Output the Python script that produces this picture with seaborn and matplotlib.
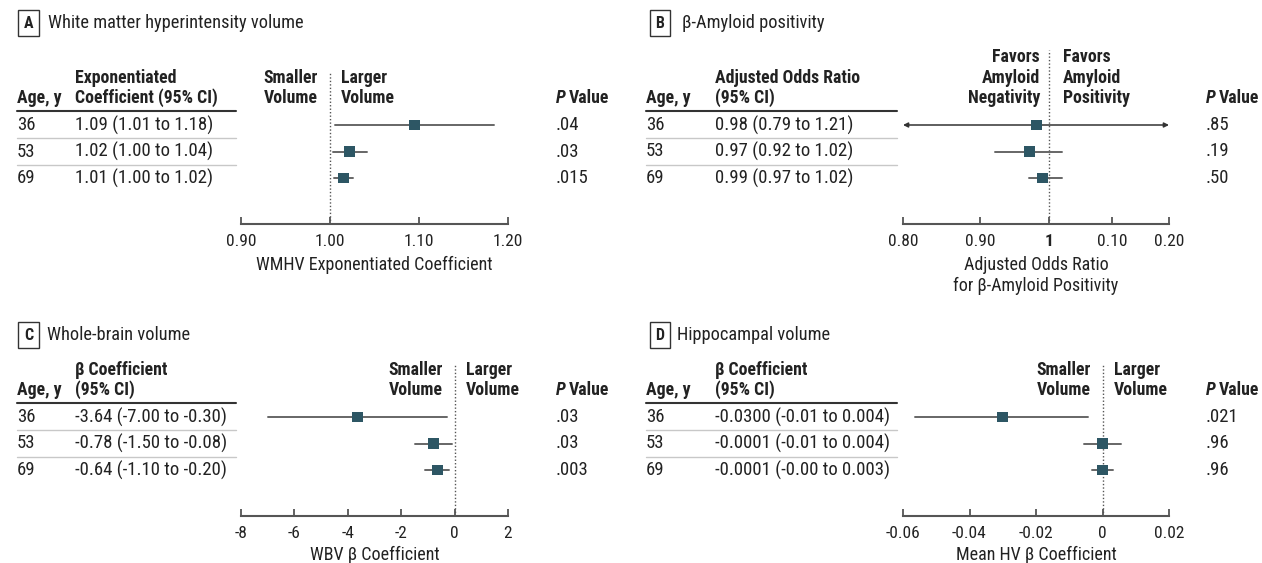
import matplotlib
matplotlib.use("Agg")
import matplotlib.pyplot as plt
import matplotlib.transforms as mtransforms
from matplotlib import font_manager
import numpy as np
import pandas as pd
import seaborn as sns

sns.set_theme(style="white")

# pick a condensed face if the machine has one
_faces = [(f.name, f.stretch) for f in font_manager.fontManager.ttflist]
_names = {n for n, _ in _faces}
CONDENSED = True
if "Liberation Sans Narrow" in _names:
    plt.rcParams["font.family"] = ["Liberation Sans Narrow", "DejaVu Sans"]
elif "Roboto Condensed" in _names:
    plt.rcParams["font.family"] = ["Roboto Condensed", "DejaVu Sans"]
elif any(n == "DejaVu Sans" and s in ("condensed", "semi-condensed") for n, s in _faces):
    plt.rcParams["font.family"] = ["DejaVu Sans"]
    plt.rcParams["font.stretch"] = "condensed"
else:
    plt.rcParams["font.family"] = ["Roboto", "DejaVu Sans"]
    CONDENSED = False

# ── data ───────────────────────────────────────────────────
ages = ["36", "53", "69"]

wmhv_est = [1.095, 1.022, 1.015]
wmhv_lo = [1.006, 1.003, 1.004]
wmhv_hi = [1.184, 1.042, 1.026]
wmhv_txt = ["1.09 (1.01 to 1.18)", "1.02 (1.00 to 1.04)", "1.01 (1.00 to 1.02)"]
wmhv_p = [".04", ".03", ".015"]

amy_est = [0.98, 0.97, 0.99]
amy_lo = [0.79, 0.92, 0.97]
amy_hi = [1.21, 1.02, 1.02]
amy_txt = ["0.98 (0.79 to 1.21)", "0.97 (0.92 to 1.02)", "0.99 (0.97 to 1.02)"]
amy_p = [".85", ".19", ".50"]

wbv_est = [-3.64, -0.78, -0.64]
wbv_lo = [-7.00, -1.50, -1.10]
wbv_hi = [-0.30, -0.08, -0.20]
wbv_txt = ["-3.64 (-7.00 to -0.30)", "-0.78 (-1.50 to -0.08)", "-0.64 (-1.10 to -0.20)"]
wbv_p = [".03", ".03", ".003"]

hv_est = [-0.0300, -0.0001, -0.0001]
hv_lo = [-0.0565, -0.0055, -0.0032]
hv_hi = [-0.0045, 0.0055, 0.0033]
hv_txt = ["-0.0300 (-0.01 to 0.004)", "-0.0001 (-0.01 to 0.004)", "-0.0001 (-0.00 to 0.003)"]
hv_p = [".021", ".96", ".96"]

W, H = 1262, 563
TXT = "#222222"
MARK = "#2d5664"
LINE = "#666666"
k = 1.0 if CONDENSED else 0.85
FS_ROW = 13.5 * k
FS_HEAD = 12.8 * k
FS_TICK = 12.5 * k
FS_LAB = 13 * k
FS_TITLE = 13.2 * k

fig = plt.figure(figsize=(W / 100, H / 100), dpi=100)
fig.patch.set_facecolor("white")


def fx(x):
    return x / W


def fy(y):
    return 1 - y / H


panels = [
    dict(letter="A", title="White matter hyperintensity volume",
         est=wmhv_est, lo=wmhv_lo, hi=wmhv_hi, txt=wmhv_txt, p=wmhv_p,
         head=["Exponentiated", "Coefficient (95% CI)"],
         left=["Smaller", "Volume"], right=["Larger", "Volume"],
         xlim=(0.90, 1.20), ref=1.0, ticks=[0.90, 1.00, 1.10, 1.20],
         ticklabels=["0.90", "1.00", "1.10", "1.20"], log=False,
         xlabel="WMHV Exponentiated Coefficient",
         ox=0, oy=0, ax0=241, ax1=508, cut=318, col_est=75, line_end=236,
         box=(28.5, 23), title_x=48, top=72),
    dict(letter="B", title="β-Amyloid positivity",
         est=amy_est, lo=amy_lo, hi=amy_hi, txt=amy_txt, p=amy_p,
         head=["Adjusted Odds Ratio", "(95% CI)"],
         left=["Favors", "Amyloid", "Negativity"], right=["Favors", "Amyloid", "Positivity"],
         xlim=(0.80, 1.20), ref=1.0, ticks=[0.80, 0.90, 1.0, 1.10, 1.20],
         ticklabels=["0.80", "0.90", "1", "0.10", "0.20"], log=True,
         xlabel="Adjusted Odds Ratio\nfor β-Amyloid Positivity",
         ox=630, oy=0, ax0=903, ax1=1169, cut=1040, col_est=715, line_end=897,
         box=(660, 23), title_x=682, top=50),
    dict(letter="C", title="Whole-brain volume",
         est=wbv_est, lo=wbv_lo, hi=wbv_hi, txt=wbv_txt, p=wbv_p,
         head=["β Coefficient", "(95% CI)"],
         left=["Smaller", "Volume"], right=["Larger", "Volume"],
         xlim=(-8, 2), ref=0, ticks=[-8, -6, -4, -2, 0, 2],
         ticklabels=["-8", "-6", "-4", "-2", "0", "2"], log=False,
         xlabel="WBV β Coefficient",
         ox=0, oy=292, ax0=241, ax1=508, cut=443, col_est=75, line_end=236,
         box=(28.5, 335), title_x=47, top=72),
    dict(letter="D", title="Hippocampal volume",
         est=hv_est, lo=hv_lo, hi=hv_hi, txt=hv_txt, p=hv_p,
         head=["β Coefficient", "(95% CI)"],
         left=["Smaller", "Volume"], right=["Larger", "Volume"],
         xlim=(-0.06, 0.02), ref=0, ticks=[-0.06, -0.04, -0.02, 0, 0.02],
         ticklabels=["-0.06", "-0.04", "-0.02", "0", "0.02"], log=False,
         xlabel="Mean HV β Coefficient",
         ox=630, oy=292, ax0=903, ax1=1169, cut=1091, col_est=715, line_end=897,
         box=(660, 335), title_x=677, top=72),
]

ROW0, DY, AXIS_Y = 125, 26.5, 224

for pn in panels:
    oy = pn["oy"]
    top_px = pn["top"] + oy
    axis_px = AXIS_Y + oy
    r0 = ROW0 + oy
    ax = fig.add_axes([fx(pn["ax0"]), fy(axis_px),
                       (pn["ax1"] - pn["ax0"]) / W, (axis_px - top_px) / H])
    ax.patch.set_alpha(0)

    def yd(ypx, r0=r0):
        return (ypx - r0) / DY

    df = pd.DataFrame({"age": ages, "est": pn["est"], "lo": pn["lo"],
                       "hi": pn["hi"], "row": np.arange(len(ages))})

    if pn["log"]:
        ax.set_xscale("log")
    ax.set_xlim(*pn["xlim"])
    ax.set_ylim(yd(axis_px), yd(top_px))

    # confidence intervals
    for _, r in df.iterrows():
        lo = max(r["lo"], pn["xlim"][0])
        hi = min(r["hi"], pn["xlim"][1])
        if r["lo"] < pn["xlim"][0] or r["hi"] > pn["xlim"][1]:
            ax.annotate("", xy=(lo, r["row"]), xytext=(hi, r["row"]),
                        arrowprops=dict(arrowstyle="<|-|>", color="#333333",
                                        lw=1.1, mutation_scale=7,
                                        shrinkA=0, shrinkB=0), zorder=2)
        else:
            ax.plot([lo, hi], [r["row"], r["row"]], color=LINE, lw=1.4, zorder=2)

    sns.scatterplot(data=df, x="est", y="row", marker="s", s=62, color=MARK,
                    edgecolor="none", zorder=3, legend=False, ax=ax)
    ax.axvline(pn["ref"], color="#555555", lw=1, ls=(0, (1, 1.5)), zorder=1)

    ax.set_xticks(pn["ticks"])
    ax.set_xticklabels(pn["ticklabels"])
    ax.xaxis.set_minor_locator(matplotlib.ticker.NullLocator())
    ax.tick_params(axis="x", direction="in", length=5, width=1.3,
                   color="#555555", labelsize=FS_TICK, labelcolor=TXT, pad=7.5,
                   bottom=True)
    if pn["letter"] == "B":
        ax.get_xticklabels()[2].set_fontweight("bold")
    ax.set_yticks([])
    ax.set_xlabel(pn["xlabel"], fontsize=FS_LAB, color=TXT,
                  labelpad=5 if oy == 0 else 3, linespacing=1.2)
    ax.set_ylabel("")
    for s in ["top", "right", "left"]:
        ax.spines[s].set_visible(False)
    ax.spines["bottom"].set_color("#555555")
    ax.spines["bottom"].set_linewidth(1.5)

    trans = mtransforms.blended_transform_factory(fig.transFigure, ax.transData)
    ox = pn["ox"]
    age_x = fx(17 if ox == 0 else 646)
    p_x = 556 if ox == 0 else 1206

    # table rows
    for i in range(len(ages)):
        ax.text(age_x, i, ages[i], transform=trans, fontsize=FS_ROW, color=TXT,
                va="center", ha="left")
        ax.text(fx(pn["col_est"]), i, pn["txt"][i], transform=trans,
                fontsize=FS_ROW, color=TXT, va="center", ha="left")
        ax.text(fx(p_x), i, pn["p"][i], transform=trans, fontsize=FS_ROW,
                color=TXT, va="center", ha="left")
    for y in [0.5, 1.5]:
        ax.plot([age_x, fx(pn["line_end"])], [y, y], transform=trans,
                color="#c8c8c8", lw=1, clip_on=False)
    ax.plot([age_x, fx(pn["line_end"])], [yd(111 + oy)] * 2, transform=trans,
            color="#333333", lw=1.5, clip_on=False)

    # headers
    hy = [98 + oy, 78 + oy, 57 + oy]
    ax.text(age_x, yd(hy[0]), "Age, y", transform=trans, fontsize=FS_HEAD,
            color=TXT, fontweight="bold", va="center")
    for j, line in enumerate(reversed(pn["head"])):
        ax.text(fx(pn["col_est"]), yd(hy[j]), line, transform=trans,
                fontsize=FS_HEAD, color=TXT, fontweight="bold", va="center")
    for j, line in enumerate(reversed(pn["left"])):
        ax.text(fx(pn["cut"]), yd(hy[j]), line, transform=trans, fontsize=FS_HEAD,
                color=TXT, fontweight="bold", va="center", ha="right")
    for j, line in enumerate(reversed(pn["right"])):
        ax.text(fx(pn["cut"] + 23), yd(hy[j]), line, transform=trans,
                fontsize=FS_HEAD, color=TXT, fontweight="bold", va="center",
                ha="left")
    ptxt = ax.text(fx(p_x), yd(hy[0]), "P", transform=trans, fontsize=FS_HEAD,
                   color=TXT, fontweight="bold", fontstyle="italic", va="center")
    ax.annotate("Value", xy=(1, 0.5), xycoords=ptxt, xytext=(2.5, 0),
                textcoords="offset points", fontsize=FS_HEAD, color=TXT,
                fontweight="bold", va="center", ha="left")

    # panel title
    bx, by = pn["box"]
    fig.text(fx(bx), fy(by), pn["letter"], fontsize=11.5 * k, fontweight="bold",
             color=TXT, ha="center", va="center",
             bbox=dict(boxstyle="square,pad=0.35", fc="white", ec="#333333", lw=1))
    fig.text(fx(pn["title_x"]), fy(by), pn["title"], fontsize=FS_TITLE,
             color=TXT, ha="left", va="center")

fig.savefig("out.png", dpi=100)
